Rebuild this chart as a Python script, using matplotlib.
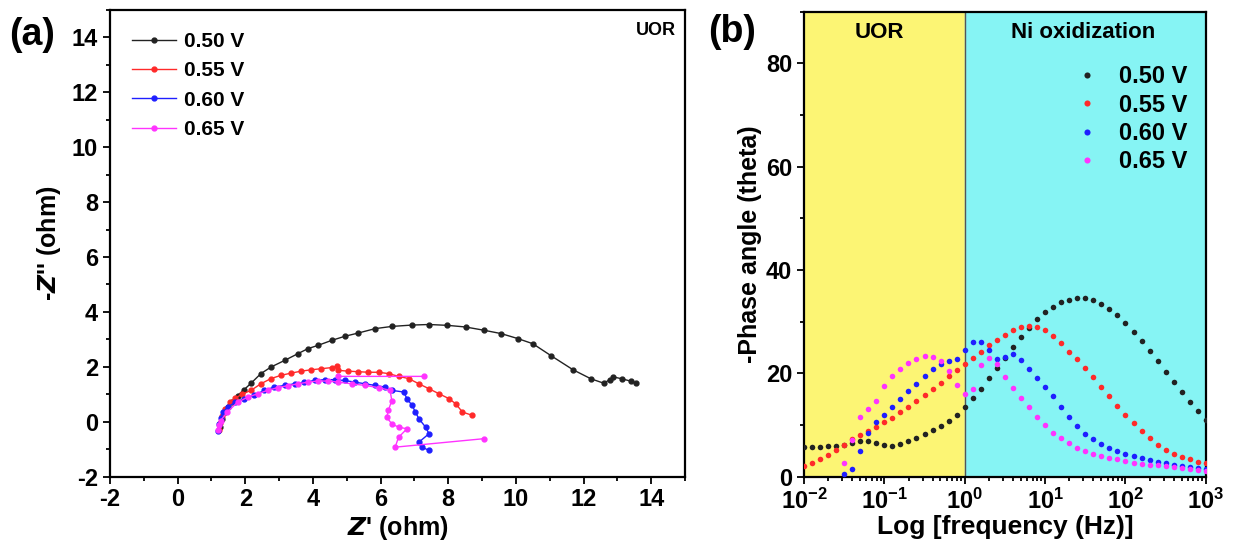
import numpy as np
import matplotlib.pyplot as plt
from matplotlib.ticker import MultipleLocator, LogLocator, NullFormatter

plt.rcParams['font.family'] = ['Liberation Sans', 'DejaVu Sans']
plt.rcParams['font.weight'] = 'bold'
plt.rcParams['axes.unicode_minus'] = False

nan = np.nan

# (a) Nyquist data, Z' and -Z'' in ohm
z50_re = [1.25, 1.3, 1.4, 1.5, 1.6, 1.77, 1.95, 2.17, 2.46, 2.76, 3.16, 3.56, 3.85, 4.15, 4.55,
          4.94, 5.34, 5.84, 6.33, 6.93, 7.43, 7.97, 8.51, 9.06, 9.56, 10.05, 10.5, 11.03,
          11.69, 12.22, 12.6, 12.77, 12.88, 13.14, 13.41, 13.54]
z50_im = [-0.2, 0.1, 0.35, 0.55, 0.72, 0.95, 1.15, 1.4, 1.75, 1.99, 2.23, 2.48, 2.66, 2.78, 2.96,
          3.11, 3.23, 3.39, 3.47, 3.52, 3.54, 3.51, 3.45, 3.33, 3.21, 3.03, 2.84, 2.41,
          1.89, 1.56, 1.40, 1.53, 1.63, 1.56, 1.47, 1.40]

z55_re = [1.22, 1.25, 1.3, 1.4, 1.55, 1.7, 1.9, 2.17, 2.46, 2.76, 3.06, 3.36, 3.65, 3.95, 4.25,
          4.55, 4.70, 4.75, 5.04, 5.34, 5.64, 5.94, 6.24, 6.53, 6.83, 7.13, 7.43, 7.72, 8.02,
          8.22, 8.42, 8.71]
z55_im = [-0.3, -0.05, 0.2, 0.45, 0.7, 0.85, 1.0, 1.14, 1.38, 1.57, 1.69, 1.77, 1.84, 1.89, 1.93,
          1.97, 2.01, 1.87, 1.84, 1.82, 1.80, 1.80, 1.75, 1.65, 1.57, 1.38, 1.20, 1.02, 0.84,
          0.65, 0.35, 0.23]

z60_re = [1.2, 1.23, 1.28, 1.35, 1.5, 1.7, 1.95, 2.27, 2.56, 2.86, 3.16, 3.46, 3.75, 4.05, 4.35,
          4.65, 4.94, 5.24, 5.54, 5.84, 6.13, 6.33, 6.68, 6.78, 6.93, 7.03, 7.13, 7.33, 7.43,
          7.13, 7.23, 7.43]
z60_im = [-0.35, -0.1, 0.15, 0.35, 0.55, 0.7, 0.83, 0.96, 1.14, 1.26, 1.32, 1.38, 1.44, 1.50, 1.53,
          1.53, 1.50, 1.44, 1.38, 1.32, 1.26, 1.14, 1.08, 0.84, 0.59, 0.35, 0.11, -0.20, -0.44,
          -0.75, -0.93, -1.05]

z65_re = [1.18, 1.22, 1.27, 1.47, 1.77, 2.07, 2.37, 2.66, 2.96, 3.26, 3.56, 3.85, 4.15, 4.45,
          4.75, 5.14, 5.54, 5.94, 6.28, 6.33, 6.23, 6.18, 6.33, 6.53, 6.78, 6.53, 6.43, 9.06,
          nan, 4.75, 7.28]
z65_im = [-0.32, -0.14, 0.04, 0.35, 0.71, 0.89, 1.02, 1.14, 1.24, 1.31, 1.38, 1.44, 1.48, 1.48,
          1.44, 1.38, 1.32, 1.24, 1.14, 0.77, 0.41, 0.16, -0.08, -0.20, -0.26, -0.57, -0.93, -0.62,
          nan, 1.65, 1.65]

# (b) Bode phase data, log10 of frequency (Hz)
logf = [-2.0, -1.9, -1.8, -1.7, -1.6, -1.5, -1.4, -1.3, -1.2, -1.1, -1.0, -0.9, -0.8, -0.7, -0.6,
        -0.5, -0.4, -0.3, -0.2, -0.1, 0.0, 0.1, 0.2, 0.3, 0.4, 0.5, 0.6, 0.7, 0.8, 0.9, 1.0,
        1.1, 1.2, 1.3, 1.4, 1.5, 1.6, 1.7, 1.8, 1.9, 2.0, 2.1, 2.2, 2.3, 2.4, 2.5, 2.6, 2.7,
        2.8, 2.9, 3.0]
ph50 = [5.8, 5.8, 5.8, 5.9, 6.0, 6.2, 6.5, 6.8, 6.8, 6.5, 6.1, 6.0, 6.3, 6.8, 7.5,
        8.2, 9.0, 9.8, 10.8, 11.9, 13.5, 15.2, 17.0, 19.0, 21.0, 23.0, 25.0, 27.0, 28.8, 30.5, 31.8,
        32.9, 33.7, 34.2, 34.5, 34.5, 34.1, 33.5, 32.5, 31.2, 29.7, 28.0, 26.2, 24.3, 22.3, 20.3,
        18.3, 16.4, 14.5, 12.7, 11.0]
ph55 = [2.0, 2.6, 3.3, 4.2, 5.2, 6.2, 7.2, 8.0, 8.8, 9.6, 10.5, 11.4, 12.4, 13.5, 14.6,
        15.8, 17.0, 18.2, 19.4, 20.6, 21.8, 23.0, 24.2, 25.4, 26.5, 27.5, 28.4, 29.0, 29.2, 29.0,
        28.3, 27.2, 25.8, 24.1, 22.7, 21.0, 19.2, 17.3, 15.5, 13.7, 12.0, 10.3, 8.8, 7.4, 6.2,
        5.2, 4.4, 3.8, 3.3, 2.9, 2.6]
ph60 = [0.5, 1.5, 5.0, 8.5, 10.5, 12.0, 13.5, 15.0, 16.5, 18.0, 19.5, 20.8, 21.7, 22.3, 22.8,
        24.5, 26.0, 26.0, 24.5, 22.8, 23.2, 23.8, 22.5, 20.8, 19.0, 17.3, 15.5, 13.5, 11.5, 9.7,
        8.3, 7.2, 6.3, 5.6, 5.0, 4.4, 4.0, 3.6, 3.2, 2.9, 2.6, 2.3, 2.0, 1.8, 1.6, 1.4]
ph65 = [2.7, 7.0, 11.5, 13.0, 14.7, 17.6, 19.5, 20.8, 22.0, 22.8, 23.3, 23.2, 22.3, 20.5, 17.8,
        16.0, 17.0, 21.5, 23.0, 21.8, 19.3, 17.2, 15.2, 13.5, 11.5, 9.9, 8.5, 7.5, 6.4, 5.6,
        4.9, 4.3, 3.9, 3.6, 3.3, 3.0, 2.7, 2.5, 2.3, 2.2, 2.0, 1.8, 1.6, 1.5, 1.3, 1.1]

labels = ['0.50 V', '0.55 V', '0.60 V', '0.65 V']
colors = ['#222222', '#ff2a2a', '#1f1fff', '#ff33ff']

freq = 10.0 ** np.array(logf)

fig = plt.figure(figsize=(12.33, 5.58), dpi=100)

# ---- panel (a)
ax1 = fig.add_axes([0.0892, 0.146, 0.4664, 0.836])
nyq = [(z50_re, z50_im), (z55_re, z55_im), (z60_re, z60_im), (z65_re, z65_im)]
for (re, im), c, lab in zip(nyq, colors, labels):
    ax1.plot(re, im, '-o', color=c, lw=1.0, ms=3.5, label=lab)
ax1.set_xlim(-2, 15)
ax1.set_ylim(-2, 15)
ax1.xaxis.set_major_locator(MultipleLocator(2))
ax1.xaxis.set_minor_locator(MultipleLocator(1))
ax1.yaxis.set_major_locator(MultipleLocator(2))
ax1.yaxis.set_minor_locator(MultipleLocator(1))
ax1.set_xlabel(r"$\mathit{Z}$' (ohm)", fontsize=18, fontweight='bold', labelpad=2)
ax1.set_ylabel(r"-$\mathit{Z}$'' (ohm)", fontsize=18, fontweight='bold', labelpad=6)
ax1.text(0.985, 0.975, 'UOR', transform=ax1.transAxes, ha='right', va='top',
         fontsize=13, fontweight='bold')
ax1.legend(loc='upper left', bbox_to_anchor=(0.0, 1.0), frameon=False, fontsize=15,
           handlelength=2.1, handletextpad=0.4, labelspacing=0.5, borderpad=0.55)
fig.text(0.007, 0.92, '(a)', fontsize=27, fontweight='bold')

# ---- panel (b)
ax2 = fig.add_axes([0.652, 0.146, 0.326, 0.833])
ax2.axvspan(1e-2, 1e0, color='#fcf574', zorder=0)
ax2.axvspan(1e0, 1e3, color='#86f4f4', zorder=0)
ax2.axvline(1e0, color='#555555', lw=1.0, zorder=1)
series_b = [(freq, ph50), (freq, ph55), (freq[5:], ph60), (freq[5:], ph65)]
for (f, p), c, lab in zip(series_b, colors, labels):
    ax2.plot(f, p, 'o', color=c, ms=4, mew=0, label=lab, zorder=3)
ax2.set_xscale('log')
ax2.set_xlim(1e-2, 1e3)
ax2.set_ylim(0, 90)
ax2.yaxis.set_major_locator(MultipleLocator(20))
ax2.yaxis.set_minor_locator(MultipleLocator(10))
ax2.xaxis.set_major_locator(LogLocator(base=10, numticks=10))
ax2.xaxis.set_minor_locator(LogLocator(base=10, subs=np.arange(2, 10), numticks=20))
ax2.xaxis.set_minor_formatter(NullFormatter())
ax2.set_xlabel('Log [frequency (Hz)]', fontsize=19, fontweight='bold', labelpad=1)
ax2.set_ylabel('-Phase angle (theta)', fontsize=18, fontweight='bold', labelpad=3)
ax2.text(10 ** -1.06, 86, 'UOR', ha='center', va='center', fontsize=16, fontweight='bold')
ax2.text(10 ** 1.475, 86, 'Ni oxidization', ha='center', va='center', fontsize=16, fontweight='bold')
ax2.legend(loc='upper right', bbox_to_anchor=(1.0, 0.925), frameon=False, fontsize=17,
           markerscale=1.1, handlelength=1.5, handletextpad=0.6, labelspacing=0.22,
           borderpad=0.3)
fig.text(0.574, 0.925, '(b)', fontsize=27, fontweight='bold')

for ax in (ax1, ax2):
    for s in ax.spines.values():
        s.set_linewidth(1.6)
    ax.tick_params(which='both', direction='out', width=1.3, labelsize=17)
    ax.tick_params(which='major', length=5)
    ax.tick_params(which='minor', length=3)
    for t in ax.get_xticklabels() + ax.get_yticklabels():
        t.set_fontweight('bold')

fig.savefig('out.png', dpi=100)
